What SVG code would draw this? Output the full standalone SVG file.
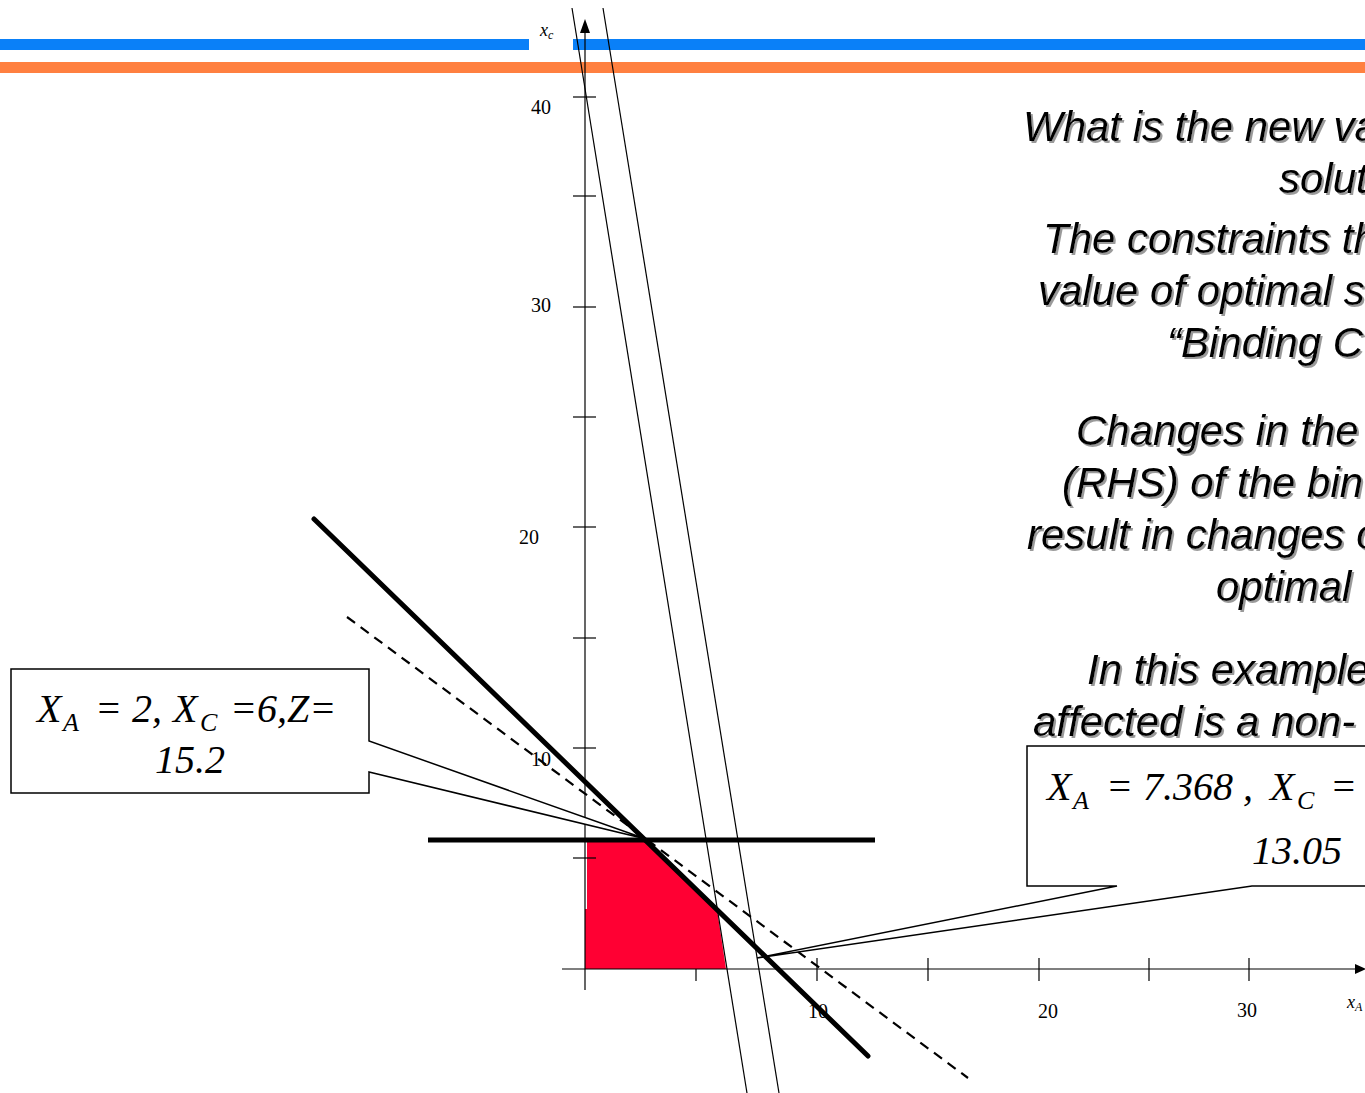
<svg xmlns="http://www.w3.org/2000/svg" width="1365" height="1093" viewBox="0 0 1365 1093">
<defs>
<style>
.thin{stroke:#000;stroke-width:1.2;fill:none}
.tick{stroke:#000;stroke-width:1.2}
.thick{stroke:#000;stroke-width:5;fill:none}
.dash{stroke:#000;stroke-width:2.2;stroke-dasharray:10 7;fill:none}
.num{font-family:"Liberation Serif","Times New Roman",serif;font-size:20px;fill:#000}
.lab{font-family:"Liberation Serif","Times New Roman",serif;font-style:italic;fill:#000}
.math{font-family:"Liberation Serif","Times New Roman",serif;font-style:italic;font-size:40px;fill:#000}
.sub{font-size:26px}
.say{font-family:"Liberation Sans",Arial,sans-serif;font-style:italic;font-size:42px;fill:#000;filter:url(#sh)}
.call{fill:#fff;stroke:#000;stroke-width:1.5}
</style>
<filter id="sh" x="-5%" y="-20%" width="110%" height="150%">
<feDropShadow dx="2" dy="2" stdDeviation="0.6" flood-color="#9a9a9a"/>
</filter>
</defs>
<rect width="1365" height="1093" fill="#fff"/>
<g id="bars">
<rect x="0" y="39" width="529" height="11" fill="#0A80F8"/>
<rect x="573" y="39" width="792" height="11" fill="#0A80F8"/>
<rect x="0" y="62" width="1365" height="11" fill="#FF8040"/>
</g>
<g id="feasible-region">
<polygon points="587,842 648,842 717,909 726,969 585,969 585,909 587,909" fill="#FF0033"/>
</g>
<g id="axes">
<line class="thin" x1="585" y1="30" x2="585" y2="990"/>
<polygon points="585,19 580,33 590,33" fill="#000"/>
<line class="thin" x1="562" y1="969" x2="1358" y2="969"/>
<polygon points="1366,969 1355,964 1355,974" fill="#000"/>
<line class="tick" x1="573" y1="97" x2="596" y2="97"/>
<line class="tick" x1="573" y1="196" x2="596" y2="196"/>
<line class="tick" x1="573" y1="307" x2="596" y2="307"/>
<line class="tick" x1="573" y1="417" x2="596" y2="417"/>
<line class="tick" x1="573" y1="527" x2="596" y2="527"/>
<line class="tick" x1="573" y1="638" x2="596" y2="638"/>
<line class="tick" x1="573" y1="748" x2="596" y2="748"/>
<line class="tick" x1="573" y1="858" x2="596" y2="858"/>
<line class="tick" x1="696" y1="969" x2="696" y2="981"/>
<line class="tick" x1="817" y1="958" x2="817" y2="981"/>
<line class="tick" x1="928" y1="958" x2="928" y2="981"/>
<line class="tick" x1="1039" y1="958" x2="1039" y2="981"/>
<line class="tick" x1="1149" y1="958" x2="1149" y2="981"/>
<line class="tick" x1="1249" y1="958" x2="1249" y2="981"/>
<text class="num" x="551" y="114" text-anchor="end">40</text>
<text class="num" x="551" y="312" text-anchor="end">30</text>
<text class="num" x="539" y="544" text-anchor="end">20</text>
<text class="num" x="551" y="766" text-anchor="end">10</text>
<text class="num" x="818" y="1018" text-anchor="middle">10</text>
<text class="num" x="1048" y="1018" text-anchor="middle">20</text>
<text class="num" x="1247" y="1017" text-anchor="middle">30</text>
<text class="lab" x="540" y="36" font-size="18">x<tspan font-size="12" dy="3">c</tspan></text>
<text class="lab" x="1347" y="1008" font-size="18">x<tspan font-size="12" dy="3">A</tspan></text>
</g>
<g id="constraint-lines">
<line class="thin" x1="572" y1="8" x2="747" y2="1093"/>
<line class="thin" x1="603" y1="8" x2="779" y2="1093"/>
<line class="thick" x1="428" y1="840" x2="875" y2="840"/>
<line class="thick" x1="314" y1="519" x2="868" y2="1056" stroke-linecap="round"/>
<line class="dash" x1="347" y1="617" x2="968" y2="1078"/>
</g>
<g id="callout-1">
<path class="call" d="M11,669 H369 V741 L646,839 L369,772 V793 H11 Z"/>
<text class="math" y="722"><tspan x="37">X</tspan><tspan class="sub" x="63" dy="9">A</tspan><tspan x="95" dy="-9">= 2,</tspan><tspan x="173">X</tspan><tspan class="sub" x="200" dy="9">C</tspan><tspan x="230" dy="-9">=6,Z=</tspan></text>
<text class="math" x="190" y="773" text-anchor="middle">15.2</text>
</g>
<g id="callout-2">
<path class="call" d="M1366,746 H1027 V886 H1117 L757,958 L1252,886 H1366"/>
<text class="math" y="800"><tspan x="1047">X</tspan><tspan class="sub" x="1073" dy="9">A</tspan><tspan x="1106" dy="-9">= 7.368 ,</tspan><tspan x="1270">X</tspan><tspan class="sub" x="1297" dy="9">C</tspan><tspan x="1330" dy="-9">=</tspan></text>
<text class="math" x="1252" y="864">13.05</text>
</g>
<g id="notes">
<text class="say" x="1023" y="141">What is the new va</text>
<text class="say" x="1279" y="193">solut</text>
<text class="say" x="1043" y="253">The constraints th</text>
<text class="say" x="1038" y="305">value of optimal s</text>
<text class="say" x="1167" y="357">“Binding C</text>
<text class="say" x="1076" y="445">Changes in the</text>
<text class="say" x="1062" y="497">(RHS) of the bin</text>
<text class="say" x="1027" y="549">result in changes o</text>
<text class="say" x="1216" y="601">optimal</text>
<text class="say" x="1087" y="684">In this example</text>
<text class="say" x="1033" y="736">affected is a non-</text>
</g>
</svg>
